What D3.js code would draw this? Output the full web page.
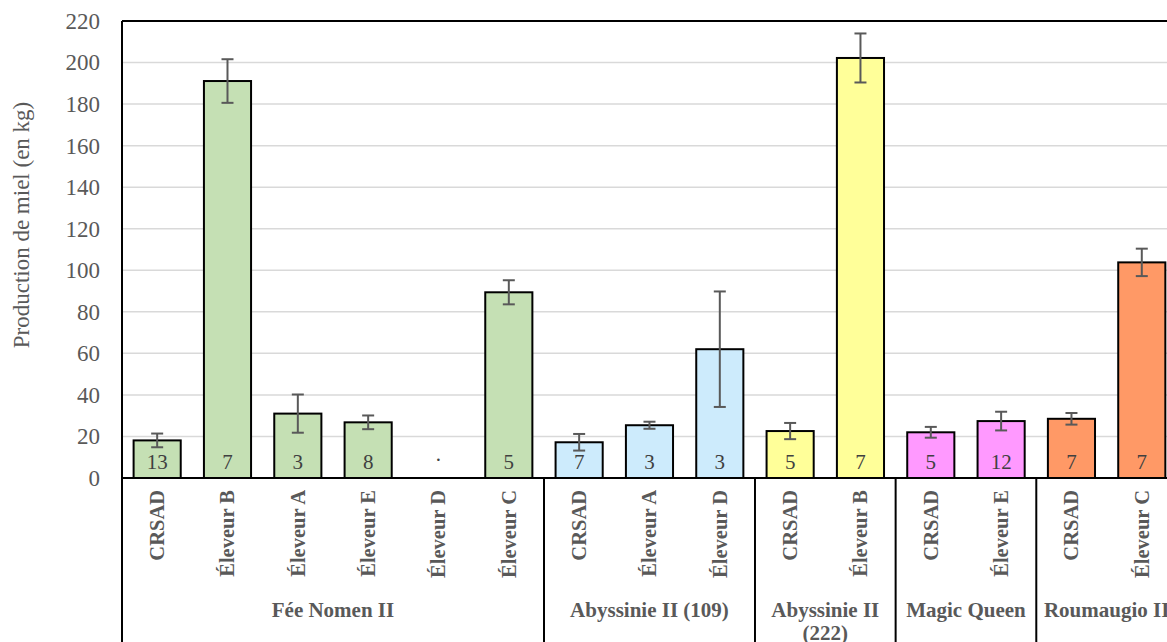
<!DOCTYPE html>
<html>
<head>
<meta charset="utf-8">
<script src="https://cdn.jsdelivr.net/npm/d3@7"></script>
<style>
  html, body { margin: 0; padding: 0; background: #fff; }
  svg { display: block; }
</style>
</head>
<body>
<svg id="chart" width="1167" height="642"></svg>
<script>
// Honey production per breeder, grouped by queen line
const groups = ["Fée Nomen II", "Abyssinie II (109)", "Abyssinie II (222)", "Magic Queen", "Roumaugio II"];
const groupColors = ["#c5e0b4", "#cdebfc", "#ffff99", "#ff99ff", "#ff9966"];
const categories = ["CRSAD", "Éleveur B", "Éleveur A", "Éleveur E", "Éleveur D", "Éleveur C",
                    "CRSAD", "Éleveur A", "Éleveur D",
                    "CRSAD", "Éleveur B",
                    "CRSAD", "Éleveur E",
                    "CRSAD", "Éleveur C"];
const categoryGroup = [0, 0, 0, 0, 0, 0, 1, 1, 1, 2, 2, 3, 3, 4, 4];
const production = [18.1, 191.1, 31.0, 26.8, null, 89.4, 17.2, 25.4, 62.0, 22.6, 202.2, 22.0, 27.4, 28.5, 103.8];
const errorBars = [3.3, 10.5, 9.2, 3.3, null, 5.8, 4.0, 1.7, 27.8, 3.9, 11.8, 2.6, 4.5, 2.8, 6.6];
const hiveCounts = ["13", "7", "3", "8", ".", "5", "7", "3", "3", "5", "7", "5", "12", "7", "7"];
const yTicks = [0, 20, 40, 60, 80, 100, 120, 140, 160, 180, 200, 220];

(function () {
const FONT = "'Liberation Serif', 'Times New Roman', serif";
const svg = d3.select("#chart");
const plotLeft = 122, plotTop = 21, plotBottom = 478, step = 70.33;
const plotRight = plotLeft + step * categories.length;

const x = d3.scaleBand()
  .domain(d3.range(categories.length))
  .range([plotLeft, plotRight])
  .paddingInner(0.33)
  .paddingOuter(0.165);

const y = d3.scaleLinear().domain([0, 220]).range([plotBottom, plotTop]);

// horizontal gridlines
svg.append("g")
  .selectAll("line")
  .data(yTicks.filter(t => t > 0 && t < 220))
  .join("line")
  .attr("x1", plotLeft).attr("x2", plotRight)
  .attr("y1", d => y(d)).attr("y2", d => y(d))
  .attr("stroke", "#d9d9d9").attr("stroke-width", 1.5);

// y axis labels
const yAxis = d3.axisLeft(y).tickValues(yTicks).tickSize(0).tickPadding(0);
const ya = svg.append("g").attr("transform", `translate(100,0)`).call(yAxis)
  .attr("font-family", null).attr("font-size", null);
ya.select(".domain").remove();
ya.selectAll("text")
  .style("font-family", FONT)
  .style("font-size", "23px")
  .style("fill", "#595959");

// y title
svg.append("text")
  .attr("transform", `translate(29,225) rotate(-90)`)
  .attr("text-anchor", "middle")
  .style("font-family", FONT)
  .style("font-size", "23px")
  .style("fill", "#595959")
  .text("Production de miel (en kg)");

// bars
const barData = categories.map((c, i) => ({ i, c, v: production[i], e: errorBars[i], n: hiveCounts[i], g: categoryGroup[i] }));

svg.append("g")
  .selectAll("rect")
  .data(barData.filter(d => d.v != null))
  .join("rect")
  .attr("x", d => x(d.i))
  .attr("width", x.bandwidth())
  .attr("y", d => y(d.v))
  .attr("height", d => y(0) - y(d.v))
  .attr("fill", d => groupColors[d.g])
  .attr("stroke", "#000")
  .attr("stroke-width", 2);

// error bars
const eb = svg.append("g")
  .attr("stroke", "#595959")
  .attr("stroke-width", 2)
  .selectAll("g")
  .data(barData.filter(d => d.e != null))
  .join("g")
  .attr("transform", d => `translate(${x(d.i) + x.bandwidth() / 2},0)`);
eb.append("line").attr("y1", d => y(d.v + d.e)).attr("y2", d => y(d.v - d.e));
eb.append("line").attr("x1", -6).attr("x2", 6).attr("y1", d => y(d.v + d.e)).attr("y2", d => y(d.v + d.e));
eb.append("line").attr("x1", -6).attr("x2", 6).attr("y1", d => y(d.v - d.e)).attr("y2", d => y(d.v - d.e));

// hive counts at the base of each bar
svg.append("g")
  .selectAll("text")
  .data(barData)
  .join("text")
  .attr("x", d => x(d.i) + x.bandwidth() / 2)
  .attr("y", d => d.v == null ? 461 : 469)
  .attr("text-anchor", "middle")
  .style("font-family", FONT)
  .style("font-size", "21px")
  .style("fill", "#404040")
  .text(d => d.n);

// plot frame: top and left border, category axis
svg.append("line").attr("x1", plotLeft).attr("x2", plotRight).attr("y1", plotTop).attr("y2", plotTop)
  .attr("stroke", "#000").attr("stroke-width", 2);
svg.append("line").attr("x1", plotLeft).attr("x2", plotLeft).attr("y1", plotTop).attr("y2", 642)
  .attr("stroke", "#000").attr("stroke-width", 2);
svg.append("line").attr("x1", plotLeft).attr("x2", plotRight).attr("y1", plotBottom).attr("y2", plotBottom)
  .attr("stroke", "#000").attr("stroke-width", 2);

// category labels (rotated)
svg.append("g")
  .selectAll("text")
  .data(barData)
  .join("text")
  .attr("transform", d => `translate(${x(d.i) + x.bandwidth() / 2 + 7},490) rotate(-90)`)
  .attr("text-anchor", "end")
  .style("font-family", FONT)
  .style("font-size", "20.5px")
  .style("font-weight", "bold")
  .style("fill", "#595959")
  .text(d => d.c);

// group extents and separators
const groupSpans = groups.map((g, gi) => {
  const idx = categoryGroup.map((v, i) => v === gi ? i : -1).filter(i => i >= 0);
  return { name: g, x0: plotLeft + step * idx[0], x1: plotLeft + step * (idx[idx.length - 1] + 1) };
});

svg.append("g")
  .selectAll("line")
  .data(groupSpans.slice(0, -1))
  .join("line")
  .attr("x1", d => d.x1).attr("x2", d => d.x1)
  .attr("y1", plotBottom).attr("y2", 642)
  .attr("stroke", "#000").attr("stroke-width", 2);

// group labels, wrapped to the group width
svg.append("g")
  .selectAll("text")
  .data(groupSpans)
  .join("text")
  .attr("x", d => (d.x0 + d.x1) / 2)
  .attr("y", 617)
  .attr("text-anchor", "middle")
  .style("font-family", FONT)
  .style("font-size", "21px")
  .style("font-weight", "bold")
  .style("fill", "#595959")
  .each(function (d) {
    const t = d3.select(this);
    const words = d.name.split(" ");
    const maxW = d.x1 - d.x0 - 6;
    let line = [];
    let tspan = t.append("tspan").attr("x", (d.x0 + d.x1) / 2).attr("dy", 0);
    words.forEach(w => {
      line.push(w);
      tspan.text(line.join(" "));
      if (tspan.node().getComputedTextLength() > maxW && line.length > 1) {
        line.pop();
        tspan.text(line.join(" "));
        line = [w];
        tspan = t.append("tspan").attr("x", (d.x0 + d.x1) / 2).attr("dy", 23).text(w);
      }
    });
  });
})();
</script>
</body>
</html>
